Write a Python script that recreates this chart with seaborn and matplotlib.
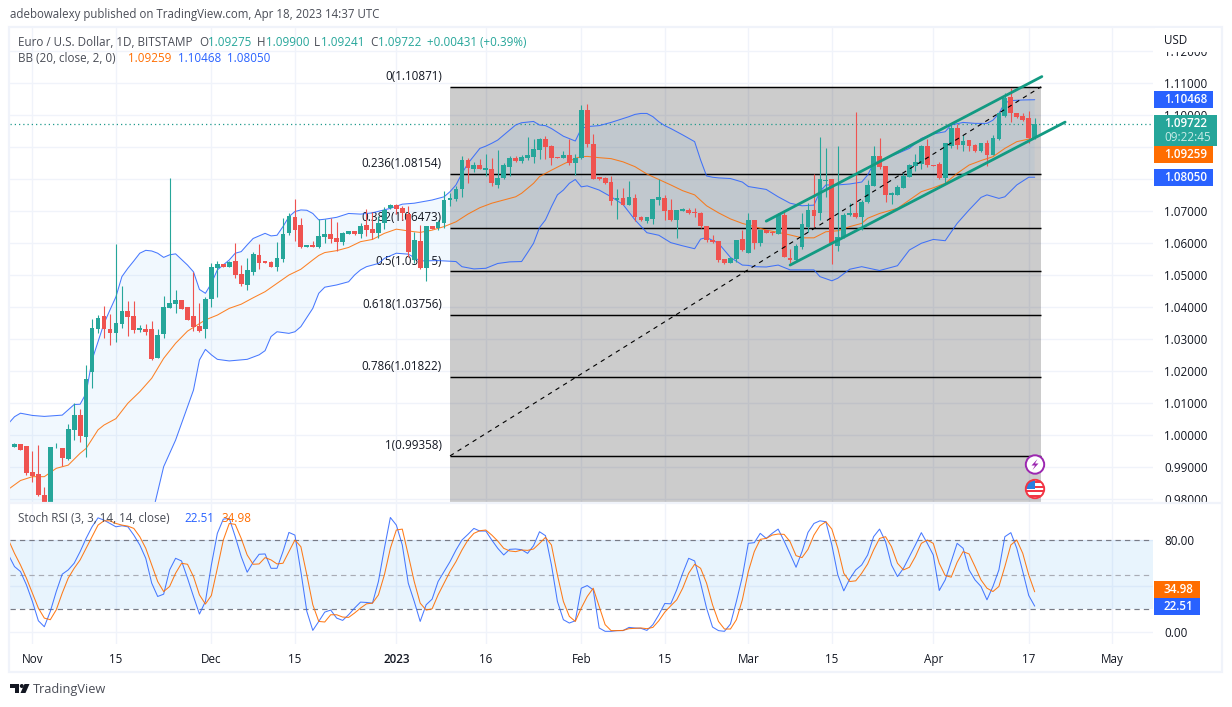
import matplotlib
matplotlib.use("Agg")
import matplotlib.pyplot as plt
from matplotlib.patches import Rectangle, Circle, Polygon
import numpy as np
import seaborn as sns

# Daily EUR/USD bars, 29 Oct 2022 to 18 Apr 2023 (bar 0 = 29 Oct)
opens = [
    .9965, .9972, .9967, .9886, .9878, .9814, .9773, .9959, .9961, .9927,
    1.0018, 1.0063, .9995, 1.0196, 1.0333, 1.0372, 1.0331, 1.0320, 1.0347, 1.0387,
    1.0371, 1.0330, 1.0331, 1.0331, 1.0242, 1.0316, 1.0398, 1.0411, 1.0421, 1.0400,
    1.0371, 1.0341, 1.0333, 1.0426, 1.0522, 1.0534, 1.0526, 1.0544, 1.0502, 1.0470,
    1.0510, 1.0562, 1.0544, 1.0541, 1.0525, 1.0549, 1.0632, 1.0681, 1.0656, 1.0588,
    1.0593, 1.0587, 1.0620, 1.0628, 1.0615, 1.0604, 1.0629, 1.0636, 1.0629, 1.0656,
    1.0643, 1.0632, 1.0663, 1.0709, 1.0717, 1.0708, 1.0690, 1.0547, 1.0606, 1.0522,
    1.0653, 1.0647, 1.0663, 1.0735, 1.0738, 1.0769, 1.0858, 1.0832, 1.0843, 1.0829,
    1.0831, 1.0782, 1.0804, 1.0837, 1.0866, 1.0856, 1.0865, 1.0868, 1.0890, 1.0925,
    1.0902, 1.0869, 1.0866, 1.0874, 1.0849, 1.0865, 1.1015, 1.0909, 1.0805, 1.0802,
    1.0789, 1.0735, 1.0740, 1.0718, 1.0740, 1.0681, 1.0670, 1.0675, 1.0735, 1.0740,
    1.0703, 1.0671, 1.0700, 1.0703, 1.0696, 1.0695, 1.0653, 1.0610, 1.0606, 1.0550,
    1.0536, 1.0550, 1.0612, 1.0570, 1.0672, 1.0601, 1.0640, 1.0633, 1.0629, 1.0687,
    1.0552, 1.0547, 1.0588, 1.0651, 1.0703, 1.0694, 1.0794, 1.0799, 1.0592, 1.0618,
    1.0687, 1.0692, 1.0682, 1.0728, 1.0779, 1.0870, 1.0840, 1.0751, 1.0751, 1.0772,
    1.0806, 1.0840, 1.0847, 1.0901, 1.0843, 1.0846, 1.0803, 1.0903, 1.0960, 1.0904,
    1.0920, 1.0907, 1.0887, 1.0911, 1.0874, 1.0924, 1.0997, 1.1054, 1.1004, 1.0996,
    1.0989, 1.09275,
]
highs = [
    .9976, .9974, .9967, .9951, .9970, .9838, .9964, .9976, .9961, 1.0035,
    1.0100, 1.0081, 1.0219, 1.0363, 1.0374, 1.0403, 1.0379, 1.0597, 1.0466, 1.0418,
    1.0418, 1.0343, 1.0346, 1.0357, 1.0333, 1.0434, 1.0802, 1.0453, 1.0422, 1.0400,
    1.0509, 1.0414, 1.0432, 1.0536, 1.0544, 1.0534, 1.0544, 1.0600, 1.0531, 1.0552,
    1.0572, 1.0597, 1.0544, 1.0543, 1.0603, 1.0678, 1.0692, 1.0737, 1.0678, 1.0595,
    1.0605, 1.0674, 1.0674, 1.0679, 1.0665, 1.0635, 1.0637, 1.0636, 1.0661, 1.0706,
    1.0698, 1.0684, 1.0713, 1.0720, 1.0721, 1.0716, 1.0715, 1.0635, 1.0656, 1.0653,
    1.0653, 1.0672, 1.0761, 1.0755, 1.0778, 1.0872, 1.0864, 1.0854, 1.0861, 1.0879,
    1.0866, 1.0890, 1.0848, 1.0871, 1.0871, 1.0874, 1.0929, 1.0924, 1.0927, 1.0934,
    1.0905, 1.0869, 1.0887, 1.0923, 1.0876, 1.1030, 1.1033, 1.0940, 1.0807, 1.0805,
    1.0809, 1.0768, 1.0770, 1.0792, 1.0753, 1.0684, 1.0680, 1.0737, 1.0801, 1.0750,
    1.0736, 1.0703, 1.0709, 1.0708, 1.0709, 1.0697, 1.0654, 1.0624, 1.0606, 1.0550,
    1.0552, 1.0609, 1.0640, 1.0692, 1.0672, 1.0640, 1.0640, 1.0638, 1.0694, 1.0701,
    1.0580, 1.0597, 1.0694, 1.0725, 1.0815, 1.0929, 1.0896, 1.0799, 1.0902, 1.0692,
    1.0724, 1.1009, 1.0734, 1.0796, 1.0902, 1.0927, 1.0840, 1.0760, 1.0781, 1.0817,
    1.0846, 1.0879, 1.0907, 1.0924, 1.0843, 1.0853, 1.0911, 1.0973, 1.0971, 1.0937,
    1.0921, 1.0909, 1.0911, 1.0921, 1.0937, 1.1007, 1.1067, 1.1082, 1.1004, 1.1006,
    1.1011, 1.09900,
]
lows = [
    .9964, .9953, .9877, .9854, .9812, .9768, .9768, .9959, .9904, .9923,
    .9985, .9980, .9931, 1.0149, 1.0320, 1.0302, 1.0282, 1.0292, 1.0335, 1.0311,
    1.0320, 1.0323, 1.0314, 1.0235, 1.0240, 1.0305, 1.0398, 1.0381, 1.0394, 1.0359,
    1.0326, 1.0322, 1.0305, 1.0401, 1.0432, 1.0525, 1.0526, 1.0490, 1.0466, 1.0454,
    1.0500, 1.0519, 1.0539, 1.0524, 1.0514, 1.0542, 1.0626, 1.0606, 1.0584, 1.0587,
    1.0587, 1.0583, 1.0600, 1.0601, 1.0576, 1.0595, 1.0629, 1.0624, 1.0615, 1.0621,
    1.0612, 1.0615, 1.0643, 1.0706, 1.0690, 1.0672, 1.0557, 1.0536, 1.0519, 1.0482,
    1.0644, 1.0640, 1.0646, 1.0715, 1.0730, 1.0744, 1.0788, 1.0822, 1.0830, 1.0809,
    1.0778, 1.0771, 1.0798, 1.0810, 1.0853, 1.0848, 1.0859, 1.0850, 1.0861, 1.0861,
    1.0843, 1.0865, 1.0864, 1.0844, 1.0813, 1.0863, 1.0900, 1.0798, 1.0796, 1.0784,
    1.0718, 1.0676, 1.0717, 1.0717, 1.0668, 1.0670, 1.0661, 1.0659, 1.0718, 1.0672,
    1.0669, 1.0616, 1.0699, 1.0690, 1.0682, 1.0646, 1.0604, 1.0601, 1.0542, 1.0535,
    1.0536, 1.0542, 1.0576, 1.0570, 1.0581, 1.0590, 1.0630, 1.0624, 1.0629, 1.0557,
    1.0536, 1.0543, 1.0581, 1.0635, 1.0651, 1.0672, 1.0744, 1.0534, 1.0576, 1.0615,
    1.0685, 1.0679, 1.0640, 1.0724, 1.0778, 1.0832, 1.0728, 1.0721, 1.0750, 1.0770,
    1.0805, 1.0824, 1.0832, 1.0836, 1.0840, 1.0801, 1.0788, 1.0895, 1.0893, 1.0888,
    1.0886, 1.0885, 1.0885, 1.0840, 1.0874, 1.0921, 1.0994, 1.0978, 1.0989, 1.0981,
    1.0913, 1.09241,
]
closes = [
    .9974, .9954, .9884, .9873, .9814, .9773, .9962, .9961, .9928, 1.0020,
    1.0063, .9999, 1.0176, 1.0334, 1.0365, 1.0332, 1.0319, 1.0349, 1.0387, 1.0370,
    1.0329, 1.0334, 1.0322, 1.0238, 1.0312, 1.0400, 1.0412, 1.0422, 1.0394, 1.0361,
    1.0338, 1.0326, 1.0425, 1.0525, 1.0534, 1.0526, 1.0541, 1.0500, 1.0473, 1.0515,
    1.0565, 1.0539, 1.0539, 1.0526, 1.0553, 1.0628, 1.0684, 1.0640, 1.0587, 1.0593,
    1.0588, 1.0622, 1.0628, 1.0613, 1.0604, 1.0631, 1.0637, 1.0629, 1.0653, 1.0640,
    1.0631, 1.0662, 1.0704, 1.0717, 1.0706, 1.0694, 1.0571, 1.0609, 1.0522, 1.0653,
    1.0644, 1.0664, 1.0734, 1.0740, 1.0768, 1.0859, 1.0835, 1.0843, 1.0831, 1.0833,
    1.0786, 1.0804, 1.0844, 1.0865, 1.0857, 1.0869, 1.0874, 1.0894, 1.0924, 1.0900,
    1.0866, 1.0866, 1.0874, 1.0849, 1.0865, 1.1015, 1.0910, 1.0800, 1.0798, 1.0786,
    1.0731, 1.0740, 1.0718, 1.0743, 1.0681, 1.0672, 1.0680, 1.0737, 1.0743, 1.0701,
    1.0671, 1.0703, 1.0706, 1.0695, 1.0694, 1.0653, 1.0609, 1.0603, 1.0547, 1.0536,
    1.0552, 1.0609, 1.0578, 1.0672, 1.0601, 1.0640, 1.0632, 1.0630, 1.0687, 1.0557,
    1.0547, 1.0591, 1.0659, 1.0703, 1.0684, 1.0799, 1.0797, 1.0599, 1.0618, 1.0687,
    1.0692, 1.0681, 1.0727, 1.0780, 1.0870, 1.0838, 1.0751, 1.0755, 1.0774, 1.0809,
    1.0842, 1.0851, 1.0901, 1.0843, 1.0841, 1.0804, 1.0911, 1.0958, 1.0906, 1.0918,
    1.0902, 1.0886, 1.0911, 1.0874, 1.0926, 1.1004, 1.1053, 1.1004, 1.0994, 1.0983,
    1.0927, 1.09722,
]

# Bollinger bands as (bar, price) vertices
bb_upper_bars = [-1, 0, 1, 3, 5, 8, 10, 11, 12, 13, 14, 15, 16, 17, 18, 19, 20, 21, 22, 23, 24, 25, 26, 27, 29, 30,
                 31, 32, 33, 34, 36, 37, 38, 39, 40, 41, 42, 43, 44, 45, 46, 47, 48, 49, 50, 51, 52, 54, 56, 58, 60,
                 63, 65, 67, 70, 72, 73, 74, 75, 76, 78, 79, 80, 81, 84, 85, 87, 88, 89, 90, 91, 92, 94, 95, 96, 98,
                 100, 102, 103, 104, 105, 106, 107, 108, 109, 110, 112, 114, 115, 116, 117, 118, 120, 122, 123, 124,
                 126, 128, 130, 132, 134, 135, 136, 138, 140, 142, 143, 144, 146, 148, 150, 152, 154, 156, 157, 159,
                 161, 163, 164, 165, 166, 167, 169, 171]
bb_upper = [1.0037, 1.0058, 1.0069, 1.0062, 1.0059, 1.0063, 1.0096, 1.0097, 1.0131, 1.0235, 1.0292, 1.0349, 1.0391,
            1.0432, 1.0495, 1.0521, 1.0544, 1.0568, 1.0577, 1.0575, 1.0568, 1.0555, 1.0563, 1.0566, 1.0531, 1.0510,
            1.0455, 1.0443, 1.0474, 1.0516, 1.0547, 1.0568, 1.0573, 1.0594, 1.0614, 1.0622, 1.0630, 1.0622, 1.0624,
            1.0651, 1.0682, 1.0698, 1.0703, 1.0702, 1.0692, 1.0672, 1.0674, 1.0680, 1.0692, 1.0690, 1.0694, 1.0708,
            1.0721, 1.0724, 1.0734, 1.0744, 1.0760, 1.0781, 1.0817, 1.0848, 1.0895, 1.0902, 1.0911, 1.0921, 1.0968,
            1.0975, 1.0979, 1.0968, 1.0966, 1.0957, 1.0945, 1.0933, 1.0918, 1.0957, 1.0963, 1.0966, 1.0976, 1.0988,
            1.0994, 1.1001, 1.1004, 1.1004, 1.0994, 1.0978, 1.0966, 1.0957, 1.0937, 1.0916, 1.0859, 1.0809, 1.0805,
            1.0803, 1.0801, 1.0790, 1.0776, 1.0773, 1.0767, 1.0744, 1.0724, 1.0716, 1.0718, 1.0760, 1.0781, 1.0781,
            1.0784, 1.0790, 1.0812, 1.0848, 1.0864, 1.0879, 1.0895, 1.0926, 1.0940, 1.0947, 1.0968, 1.0976, 1.0973,
            1.0973, 1.0983, 1.1004, 1.1037, 1.1044, 1.1046, 1.10468]

bb_mid_bars = [-1, 1, 3, 5, 7, 9, 11, 12, 14, 15, 17, 19, 21, 23, 25, 27, 29, 32, 34, 36, 38, 40, 42, 44, 46, 48, 50,
               51, 52, 54, 56, 58, 60, 62, 64, 67, 68, 70, 72, 74, 76, 78, 80, 82, 84, 85, 87, 88, 90, 92, 94, 95, 96,
               98, 100, 102, 104, 106, 108, 110, 112, 114, 116, 118, 120, 122, 124, 126, 128, 130, 132, 134, 136, 138,
               140, 142, 143, 145, 148, 150, 152, 154, 156, 158, 160, 162, 164, 166, 168, 170, 171]
bb_mid = [.9832, .9859, .9871, .9871, .9897, .9907, .9944, .9959, 1.0017, 1.0032, 1.0052, 1.0100, 1.0136, 1.0178,
          1.0240, 1.0287, 1.0325, 1.0360, 1.0375, 1.0396, 1.0409, 1.0429, 1.0448, 1.0474, 1.0500, 1.0518, 1.0547,
          1.0561, 1.0570, 1.0576, 1.0586, 1.0604, 1.0611, 1.0630, 1.0643, 1.0635, 1.0633, 1.0640, 1.0651, 1.0666,
          1.0690, 1.0710, 1.0724, 1.0734, 1.0744, 1.0755, 1.0786, 1.0807, 1.0827, 1.0846, 1.0864, 1.0869, 1.0870,
          1.0866, 1.0863, 1.0853, 1.0838, 1.0815, 1.0798, 1.0781, 1.0763, 1.0750, 1.0716, 1.0694, 1.0675, 1.0661,
          1.0651, 1.0640, 1.0633, 1.0625, 1.0616, 1.0616, 1.0635, 1.0638, 1.0651, 1.0661, 1.0677, 1.0692, 1.0708,
          1.0734, 1.0760, 1.0772, 1.0786, 1.0817, 1.0843, 1.0857, 1.0869, 1.0895, 1.0916, 1.0924, 1.09259]

bb_lower_bars = [-1, 22, 23, 24, 25, 27, 30, 31, 32, 33, 34, 36, 39, 41, 42, 43, 44, 46, 47, 48, 50, 51, 52, 54, 56, 57,
                 58, 59, 61, 62, 64, 66, 68, 71, 72, 74, 75, 77, 79, 81, 83, 85, 86, 87, 88, 89, 90, 91, 92, 93, 94,
                 95, 96, 98, 100, 102, 104, 106, 108, 110, 112, 114, 115, 116, 118, 120, 122, 123, 124, 126, 128, 130,
                 132, 134, 135, 137, 138, 140, 142, 145, 148, 150, 152, 154, 156, 158, 160, 162, 163, 165, 166, 168,
                 170, 171]
bb_lower = [.9600, .9663, .9746, .9824, .9902, .9985, 1.0141, 1.0235, 1.0268, 1.0251, 1.0237, 1.0232, 1.0237, 1.0251,
            1.0264, 1.0308, 1.0323, 1.0318, 1.0323, 1.0339, 1.0396, 1.0443, 1.0462, 1.0469, 1.0479, 1.0500, 1.0516,
            1.0526, 1.0536, 1.0552, 1.0568, 1.0565, 1.0544, 1.0545, 1.0544, 1.0542, 1.0526, 1.0519, 1.0521, 1.0536,
            1.0541, 1.0542, 1.0570, 1.0599, 1.0648, 1.0672, 1.0713, 1.0750, 1.0765, 1.0786, 1.0798, 1.0775, 1.0778,
            1.0765, 1.0744, 1.0720, 1.0672, 1.0632, 1.0624, 1.0601, 1.0591, 1.0582, 1.0612, 1.0617, 1.0599, 1.0555,
            1.0531, 1.0530, 1.0526, 1.0525, 1.0531, 1.0516, 1.0516, 1.0516, 1.0495, 1.0482, 1.0490, 1.0518, 1.0526,
            1.0514, 1.0529, 1.0578, 1.0599, 1.0611, 1.0607, 1.0661, 1.0703, 1.0742, 1.0750, 1.0739, 1.0744, 1.0781,
            1.0805, 1.08050]

# Stochastic RSI, one value per bar from bar -1 to bar 171
stoch_k = [
    67.0, 56.9, 52.6, 41.0, 26.6, 9.8, 4.6, 17.9, 35.2, 50.3, 54.0, 59.8, 69.9, 81.4, 91.5, 99.3, 97.3, 94.4, 91.5,
    92.4, 91.5, 84.3, 75.7, 64.1, 42.5, 30.9, 32.9, 54.0, 64.1, 61.8, 46.8, 30.9, 15.6, 26.6, 58.3, 85.8, 98.2, 98.8,
    82.9, 65.6, 52.0, 60.6, 67.6, 67.9, 55.4, 55.4, 69.9, 86.6, 84.3, 52.6, 17.9, 1.4, 9.2, 17.3, 19.1, 12.1, 10.1,
    15.0, 20.8, 26.0, 25.7, 25.1, 43.9, 72.8, 99.6, 93.0, 75.7, 42.5, 26.6, 9.2, 23.7, 28.6, 43.9, 52.6, 61.2, 71.3,
    80.0, 84.9, 90.1, 87.8, 87.8, 80.0, 72.8, 67.0, 71.9, 72.2, 71.6, 68.4, 75.1, 87.2, 83.8, 58.3, 26.6, 10.7, 7.8,
    9.8, 38.1, 40.4, 36.7, 3.5, 0.6, 0.6, 1.2,
    1.2, 4.0, 3.5, 3.2, 1.4, 6.4, 15.0, 24.8, 24.5, 36.7, 51.1, 64.1, 61.8, 42.5, 20.8, 4.3, 1.2, 0.6, 6.9, 26.6, 48.2,
    77.1, 77.7, 85.8, 81.4, 85.8, 89.5, 79.1, 67.9, 56.3, 69.9, 86.6, 94.4, 96.7, 95.9, 75.7, 49.7, 35.8, 46.2, 54.0,
    58.3, 67.0, 82.9, 89.5, 78.6, 58.3, 48.2, 55.4, 65.6, 75.7, 86.4, 77.1, 67.0, 36.1, 45.3, 61.2, 77.1, 72.8, 54.0,
    45.3, 39.6, 28.0, 39.6, 54.0, 82.9, 86.4, 72.8, 52.6, 31.8, 22.51,
]
stoch_d = [
    80.0, 68.4, 58.3, 46.8, 33.8, 20.8, 12.1, 10.7, 19.3, 33.8, 46.8, 55.4, 62.7, 72.8, 82.9, 93.0, 96.7, 96.7, 94.4,
    93.0, 92.1, 90.1, 82.9, 72.8, 58.3, 43.9, 35.2, 39.6, 51.1, 59.8, 58.9, 48.2, 32.3, 24.3, 31.8, 55.4, 80.0, 94.4,
    93.6, 81.4, 67.0, 58.9, 59.2, 64.7, 62.7, 59.2, 59.8, 69.9, 80.0, 74.2, 49.7, 23.7, 9.2, 8.7, 15.0, 15.0, 13.0,
    12.7, 16.5, 20.8, 24.5, 25.1, 32.3, 49.7, 72.8, 88.7, 89.5, 67.0, 43.9, 25.1, 19.1, 20.2, 32.3, 42.5, 52.6, 61.2,
    71.3, 80.0, 85.8, 88.1, 88.7, 84.3, 79.1, 72.8, 70.5, 69.9, 71.3, 71.0, 72.2, 77.1, 82.3, 75.7, 49.7, 26.6, 13.6,
    9.2, 20.8, 30.9, 38.1, 22.2, 6.4, 1.2, 1.2,
    1.4, 2.9, 3.2, 3.5, 2.9, 4.0, 9.8, 17.3, 22.8, 28.0, 38.1, 51.1, 58.9, 55.4, 42.5, 23.7, 9.2, 2.6, 2.6, 10.7, 28.0,
    52.6, 69.9, 80.6, 81.4, 84.3, 85.2, 84.9, 78.6, 66.4, 64.7, 71.9, 84.3, 92.4, 95.9, 89.5, 72.8, 51.1, 43.9, 44.5,
    51.1, 59.2, 71.3, 81.4, 82.9, 74.2, 59.8, 54.0, 56.3, 65.6, 77.1, 80.0, 77.1, 59.8, 49.1, 47.7, 60.6, 69.9, 67.9,
    56.9, 45.3, 38.1, 35.2, 39.6, 56.9, 75.7, 80.0, 68.4, 49.7, 34.98,
]

# Fibonacci retracement levels
fib_ratios = ["0", "0.236", "0.382", "0.5", "0.618", "0.786", "1"]
fib_prices = [1.10871, 1.08154, 1.06473, 1.05115, 1.03756, 1.01822, 0.99358]
fib_start_bar, fib_end_bar = 73.0, 172.06

# Rising channel drawn on the chart
channel_upper_bars, channel_upper = [126.0, 172.2], [1.0668, 1.1119]
channel_lower_bars, channel_lower = [130.0, 176.1], [1.0531, 1.0977]

# Time axis
tick_bars = [3, 17, 33, 47, 64, 79, 95, 109, 123, 137, 154, 170, 184]
tick_labels = ["Nov", "15", "Dec", "15", "2023", "16", "Feb", "15", "Mar", "15", "Apr", "17", "May"]
price_ticks = [0.98, 0.99, 1.00, 1.01, 1.02, 1.03, 1.04, 1.05, 1.06, 1.07, 1.08, 1.09, 1.10, 1.11, 1.12]
# The 1.08 and 1.09 rows sit behind the band and last-value tags, so only their gridlines are drawn
price_labels = ["" if p in (1.08, 1.09) else f"{p:.5f}" for p in price_ticks]

GREEN, RED = "#26a69a", "#ef5350"
BLUE, ORANGE = "#2962ff", "#ff6d00"
GRID = "#f0f3fa"
TEXT = "#131722"
LEGEND = "#4a4d57"
FONT = "Open Sans"

sns.set_theme(style="white")
plt.rcParams["font.family"] = [FONT, "DejaVu Sans"]

W, H = 1232, 707
fig = plt.figure(figsize=(W / 100, H / 100), dpi=100, facecolor="white")


def rect(left, top, right, bottom):
    return [left / W, (H - bottom) / H, (right - left) / W, (bottom - top) / H]


ax = fig.add_axes(rect(10, 28, 1153, 502))
ax2 = fig.add_axes(rect(10, 503, 1153, 644))
xlim = (-0.754, 190.83)

# --- price pane ---
ax.set_xlim(*xlim)
ax.set_ylim(0.97920, 1.12705)
ax.set_xticks(tick_bars)
ax.set_yticks(price_ticks)
ax.set_yticklabels(price_labels, fontsize=8.4, color=TEXT)
ax.set_xticklabels([])
ax.yaxis.tick_right()
ax.tick_params(length=0, pad=8.2)
ax.grid(True, color=GRID, lw=1.0, zorder=0)
ax.set_axisbelow(True)

ax.axvspan(fib_start_bar, fib_end_bar, ymin=0, ymax=(fib_prices[0] - 0.97920) / (1.12705 - 0.97920),
           color="black", alpha=0.2, lw=0, zorder=1)
ax.fill(bb_upper_bars + bb_lower_bars[::-1], bb_upper + bb_lower[::-1],
        color="#2196f3", alpha=0.06, lw=0, zorder=1.5)

for ratio, price in zip(fib_ratios, fib_prices):
    ax.hlines(price, fib_start_bar, fib_end_bar, color="black", lw=1.05, zorder=2)
    ax.annotate(f"{ratio}({price:.5f})", xy=(71.65, price), xytext=(0, 7.4), textcoords="offset points",
                ha="right", va="center", fontsize=8.4, color=TEXT, zorder=1.8)
ax.plot([fib_start_bar, fib_end_bar], [fib_prices[-1], fib_prices[0]], color="black", lw=0.8,
        ls=(0, (4, 4)), zorder=4)

for xs, ys, colour in [(bb_upper_bars, bb_upper, BLUE), (bb_lower_bars, bb_lower, BLUE), (bb_mid_bars, bb_mid, ORANGE)]:
    sns.lineplot(x=xs, y=ys, ax=ax, color=colour, lw=0.75, alpha=0.85, estimator=None, sort=False, zorder=2.5)

bars = np.arange(len(opens))
op, hi, lo, cl = map(np.array, (opens, highs, lows, closes))
colours = np.where(cl >= op, GREEN, RED)
ax.vlines(bars, lo, hi, colors=colours, lw=0.8, zorder=3)
ax.bar(bars, np.abs(cl - op), bottom=np.minimum(op, cl), width=0.8, color=colours, lw=0, zorder=3.1)

ax.axhline(closes[-1], color="#1f9a8c", lw=0.9, ls=(0, (1, 2.4)), zorder=2.4)
for xs, ys in [(channel_upper_bars, channel_upper), (channel_lower_bars, channel_lower)]:
    sns.lineplot(x=xs, y=ys, ax=ax, color="#129a82", lw=2.0, estimator=None, sort=False, zorder=5)

# --- oscillator pane ---
ax2.set_xlim(*xlim)
ax2.set_ylim(-10.43, 112.2)
ax2.set_xticks(tick_bars)
ax2.set_xticklabels(tick_labels, fontsize=8.4, color=TEXT)
ax2.get_xticklabels()[4].set_fontweight("semibold")
ax2.set_yticks([0, 40, 80])
ax2.set_yticklabels(["0.00", "", "80.00"], fontsize=8.4, color=TEXT)
ax2.yaxis.tick_right()
ax2.tick_params(axis="y", length=0, pad=8.2)
ax2.tick_params(axis="x", length=0, pad=6.6)
ax2.grid(True, color=GRID, lw=1.0, zorder=0)
ax2.set_axisbelow(True)
ax2.axhspan(20, 80, color="#2196f3", alpha=0.1, lw=0, zorder=1)
for level, shade in [(80, "#787b86"), (50, "#a9acb5"), (20, "#787b86")]:
    ax2.axhline(level, color=shade, lw=0.85, ls=(0, (4.5, 3.5)), zorder=2)
osc_bars = np.arange(-1, len(stoch_k) - 1)
sns.lineplot(x=osc_bars, y=stoch_k, ax=ax2, color=BLUE, lw=0.75, alpha=0.85, estimator=None, zorder=3)
sns.lineplot(x=osc_bars, y=stoch_d, ax=ax2, color=ORANGE, lw=0.75, alpha=0.9, estimator=None, zorder=3.1)

for axis in (ax, ax2):
    sns.despine(ax=axis, left=True, bottom=True, right=True, top=True)
    axis.set_xlabel("")
    axis.set_ylabel("")

# --- page furniture, laid out in pixels ---
ov = fig.add_axes([0, 0, 1, 1], zorder=10)
ov.set_xlim(0, W)
ov.set_ylim(H, 0)
ov.axis("off")
ov.patch.set_alpha(0)

ov.add_patch(Rectangle((8.5, 26.5), 1213, 645, fill=False, ec=GRID, lw=1.6))
ov.plot([8.5, 1222], [503, 503], color=GRID, lw=1.6)
ov.add_patch(Rectangle((1155, 28), 65, 23.5, fc="white", ec="none"))


def label(x, y, s, color=LEGEND, size=8.4, ha="left", weight="normal"):
    ov.text(x, y, s, color=color, fontsize=size, ha=ha, va="center", fontweight=weight)


label(10, 14.5, "adebowalexy published on TradingView.com, Apr 18, 2023 14:37 UTC", size=8.3)
label(18, 42, "Euro / U.S. Dollar, 1D, BITSTAMP")
for x, s, c in [(199, "O", LEGEND), (208, "1.09275", GREEN), (257, "H", LEGEND), (266, "1.09900", GREEN),
                (314, "L", LEGEND), (321, "1.09241", GREEN), (370, "C", LEGEND), (378, "1.09722", GREEN),
                (427, "+0.00431 (+0.39%)", GREEN)]:
    label(x, 42, s, c)
label(18, 58, "BB (20, close, 2, 0)")
for x, s, c in [(128, "1.09259", ORANGE), (178, "1.10468", BLUE), (227, "1.08050", BLUE)]:
    label(x, 58, s, c)
label(18, 518, "Stoch RSI (3, 3, 14, 14, close)")
label(184, 518, "22.51", BLUE)
label(221, 518, "34.98", ORANGE)
label(1164, 40, "USD", TEXT)

# value tags on the price scale
for top, bottom, right, fc, s in [(91, 108, 1213, BLUE, "1.10468"), (146, 163, 1213, ORANGE, "1.09259"),
                                  (169, 186, 1213, BLUE, "1.08050"), (581, 598, 1200, ORANGE, "34.98"),
                                  (598, 615, 1200, BLUE, "22.51")]:
    ov.add_patch(Rectangle((1154, top), right - 1154, bottom - top, fc=fc, ec="none"))
    label(1164, (top + bottom) / 2, s, "white", weight="semibold")
ov.add_patch(Rectangle((1154, 115), 63, 31, fc=GREEN, ec="none"))
label(1164, 123.5, "1.09722", "white", weight="semibold")
label(1164, 137.5, "09:22:45", "#c9ebe7")

# event markers
ov.add_patch(Circle((1035, 464.5), 9.2, fc="white", ec="#9c27b0", lw=1.4))
ov.add_patch(Polygon([(1037.5, 459), (1031.5, 465.5), (1035, 465.5), (1032.5, 470), (1038.5, 463.5), (1035, 463.5)],
                     fc="#9c27b0", ec="none"))
flag_disc = Circle((1035, 489), 9.2, fc="white", ec="none")
ov.add_patch(flag_disc)
for top in (481, 485.5, 490, 494.5):
    stripe = Rectangle((1024, top), 22, 2.2, fc="#f23645", ec="none")
    ov.add_patch(stripe)
    stripe.set_clip_path(flag_disc)
canton = Rectangle((1024, 479), 11, 9.5, fc="#2a7fe0", ec="none")
ov.add_patch(canton)
canton.set_clip_path(flag_disc)
ov.add_patch(Circle((1035, 489), 9.2, fill=False, ec="#f23645", lw=1.4))

# TradingView mark and wordmark
ov.add_patch(Polygon([(10, 684), (19, 684), (19, 693), (15, 693), (15, 688), (10, 688)], fc="#131722", ec="none"))
ov.add_patch(Circle((21.8, 686), 2, fc="#131722", ec="none"))
ov.add_patch(Polygon([(24.5, 684), (29.5, 684), (25.5, 693), (20.5, 693)], fc="#131722", ec="none"))
label(33, 689.5, "TradingView", "#4a4d57", size=9.2)

fig.savefig("out.png", dpi=100, facecolor="white")
